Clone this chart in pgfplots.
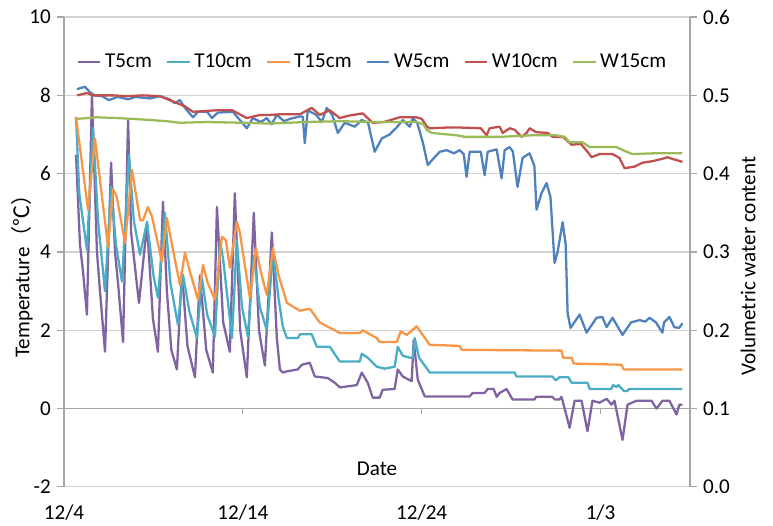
\documentclass[border=0pt]{standalone}
\usepackage{fontspec}
\setmainfont{Carlito}
\newfontfamily\cjk{Noto Sans CJK JP}
\usepackage{pgfplots}
\pgfplotsset{compat=1.18}

\definecolor{cT5}{RGB}{128,100,162}
\definecolor{cT10}{RGB}{75,172,198}
\definecolor{cT15}{RGB}{247,150,70}
\definecolor{cW5}{RGB}{79,129,189}
\definecolor{cW10}{RGB}{192,80,77}
\definecolor{cW15}{RGB}{155,187,89}
\definecolor{axgray}{RGB}{166,166,166}
\definecolor{gridgray}{RGB}{210,210,210}

\begin{document}
\begin{tikzpicture}
\pgfplotsset{
  every axis/.append style={
    width=355.7pt, height=267pt, scale only axis,
    xmin=0, xmax=35,
    font=\fontsize{12}{14}\selectfont,
    /pgf/number format/assume math mode=true,
    tick align=outside, major tick length=4pt,
    tick style={axgray, line width=0.7pt},
    axis line style={axgray, line width=0.7pt},
  },
  plt/.style={line width=1.3pt, no marks, line join=round},
}
% left axis: temperature
\begin{axis}[
  axis y line*=left, axis x line*=bottom,
  x axis line style={draw=none},
  every x tick/.style={draw=none},
  ymin=-2, ymax=10, ytick={-2,0,2,4,6,8,10},
  ymajorgrids, grid style={gridgray, line width=0.7pt},
  xtick={0,10,20,30}, xticklabels={12/4,12/14,12/24,1/3},
  xticklabel style={yshift=-2.5pt},
  ylabel={Temperature{\cjk （℃）}},
  ylabel style={at={(axis description cs:-0.067,0.46)}, anchor=center},
]
\draw[axgray, line width=0.7pt] (axis cs:0,0) -- (axis cs:35,0);
\draw[axgray, line width=0.7pt] (axis cs:10,0) -- (axis cs:10,-0.13);
\draw[axgray, line width=0.7pt] (axis cs:20,0) -- (axis cs:20,-0.13);
\draw[axgray, line width=0.7pt] (axis cs:30,0) -- (axis cs:30,-0.13);
\node at (axis cs:17.5,-1.55) {Date};

% T5cm
\addplot[plt, cT5] coordinates {
(0.67,6.48) (0.89,4.2) (1.06,3.5) (1.28,2.4) (1.56,8.0) (1.84,4.0) (2.01,3.0)
(2.29,1.45) (2.63,6.28) (2.85,4.0) (3.02,3.2) (3.30,1.7) (3.58,7.37) (3.75,4.5)
(4.19,2.7) (4.64,4.7) (4.97,2.3) (5.25,1.45) (5.53,5.28) (5.75,3.0) (6.0,1.5)
(6.31,1.0) (6.59,3.5) (6.9,1.6) (7.32,0.8) (7.6,3.4) (7.95,1.5) (8.32,0.92)
(8.55,5.15) (8.9,2.2) (9.27,1.45) (9.55,5.5) (9.85,2.0) (10.22,0.8) (10.61,5.0)
(10.9,2.0) (11.23,1.1) (11.62,4.5) (11.9,1.8) (12.07,1.0) (12.23,0.92) (12.46,0.95)
(13.07,1.0) (13.30,1.12) (13.74,1.17) (14.02,0.82) (14.75,0.78) (15.14,0.66)
(15.42,0.54) (16.37,0.6) (16.65,0.92) (16.98,0.66) (17.26,0.28) (17.65,0.28)
(17.82,0.48) (18.49,0.5) (18.66,1.0) (18.94,0.82) (19.44,0.7) (19.55,1.75)
(19.78,0.74) (20.17,0.31) (22.68,0.31) (22.85,0.4) (23.52,0.4) (23.69,0.5)
(24.02,0.5) (24.19,0.3) (24.36,0.4) (24.75,0.5) (25.08,0.23) (26.3,0.23)
(26.4,0.3) (27.3,0.3) (27.45,0.23) (27.7,0.23) (27.82,0.3) (28.27,-0.49)
(28.55,0.2) (28.94,0.2) (29.27,-0.58) (29.55,0.2) (29.94,0.15) (30.34,0.25)
(30.61,0.1) (30.78,0.2) (31.23,-0.8) (31.51,0.1) (32.01,0.2) (32.85,0.2)
(33.13,0.0) (33.46,0.2) (33.85,0.2) (34.25,-0.15) (34.41,0.1) (34.58,0.1)
};
% T10cm
\addplot[plt, cT10] coordinates {
(0.67,7.45) (0.85,5.5) (1.28,4.05) (1.62,7.17) (1.9,4.8) (2.29,3.0) (2.63,5.67)
(2.9,4.2) (3.24,3.24) (3.63,6.48) (3.9,4.8) (4.25,3.93) (4.64,4.77) (5.0,3.4)
(5.25,2.83) (5.64,5.0) (5.95,3.2) (6.37,2.14) (6.65,3.42) (7.0,2.5) (7.43,1.8)
(7.71,3.34) (8.0,2.4) (8.44,1.84) (8.72,4.3) (8.9,3.8) (9.39,1.8) (9.66,4.3)
(9.95,2.6) (10.28,1.84) (10.61,3.9) (10.95,2.6) (11.34,2.0) (11.68,4.0) (12.0,2.8)
(12.23,2.1) (12.46,1.8) (13.07,1.8) (13.2,1.9) (13.85,1.9) (14.13,1.58)
(14.86,1.58) (15.42,1.2) (16.54,1.2) (16.65,1.4) (16.98,1.3) (17.49,1.07)
(17.93,1.02) (18.49,1.07) (18.66,1.58) (18.94,1.35) (19.33,1.3) (19.5,1.3)
(19.61,1.8) (19.85,1.3) (20.45,0.92) (25.2,0.92) (25.3,0.82) (27.3,0.82)
(27.5,0.72) (27.7,0.8) (28.2,0.8) (28.38,0.66) (29.27,0.66) (29.4,0.5) (30.6,0.5)
(30.7,0.6) (30.9,0.55) (31.0,0.6) (31.2,0.5) (31.3,0.45) (31.5,0.45) (31.6,0.5)
(34.58,0.5)
};
% T15cm
\addplot[plt, cT15] coordinates {
(0.67,7.45) (1.34,5.08) (1.73,6.9) (2.46,4.13) (2.74,5.6) (2.95,5.4) (3.41,4.23)
(3.80,6.1) (4.25,4.82) (4.41,4.8) (4.69,5.15) (4.92,4.9) (5.47,3.75) (5.75,4.87)
(6.03,4.2) (6.48,3.16) (6.76,3.98) (7.04,3.5) (7.49,2.78) (7.77,3.67) (8.04,3.2)
(8.44,2.78) (8.83,4.39) (9.05,4.3) (9.27,3.6) (9.66,4.77) (9.83,4.5) (10.39,2.83)
(10.73,4.1) (11.0,3.5) (11.34,2.9) (11.68,4.1) (12.0,3.4) (12.46,2.7) (13.18,2.5)
(13.74,2.55) (14.30,2.2) (15.42,1.93) (16.54,1.93) (16.70,2.0) (17.49,1.8)
(17.65,1.7) (18.60,1.7) (18.83,1.97) (19.16,1.88) (19.72,2.1) (19.95,1.95)
(20.45,1.63) (22.12,1.6) (22.23,1.5) (27.82,1.48) (27.9,1.3) (28.38,1.3)
(28.5,1.15) (31.17,1.12) (31.3,1.0) (34.58,1.0)
};
\end{axis}

% right axis: volumetric water content
\begin{axis}[
  axis y line*=right, axis x line=none,
  ymin=0, ymax=0.6, ytick={0,0.1,0.2,0.3,0.4,0.5,0.6},
  yticklabel style={/pgf/number format/.cd, fixed, fixed zerofill, precision=1},
  ylabel={Volumetric water content},
  ylabel style={at={(axis description cs:1.093,0.47)}, anchor=center},
  legend style={at={(axis description cs:0.494,0.905)}, anchor=center,
    draw=none, fill=none, legend columns=6,
    /tikz/every even column/.append style={column sep=6pt}},
  legend image code/.code={\draw[#1] (0cm,0cm) -- (0.45cm,0cm);},
]
\addlegendimage{plt, cT5}\addlegendentry{T5cm}
\addlegendimage{plt, cT10}\addlegendentry{T10cm}
\addlegendimage{plt, cT15}\addlegendentry{T15cm}
% W5cm
\addplot[plt, cW5] coordinates {
(0.73,0.508) (1.17,0.511) (1.45,0.504) (1.7,0.500) (2.12,0.499) (2.5,0.494)
(3.0,0.498) (3.58,0.495) (4.0,0.498) (4.4,0.497) (4.8,0.496) (5.36,0.499)
(5.9,0.495) (6.20,0.490) (6.48,0.494) (6.76,0.484) (7.21,0.472) (7.49,0.479)
(8.0,0.479) (8.27,0.471) (8.6,0.478) (9.44,0.479) (9.83,0.4685) (10.22,0.458)
(10.56,0.471) (11.0,0.466) (11.34,0.471) (11.6,0.463) (11.90,0.475) (12.3,0.467)
(12.63,0.470) (13.18,0.473) (13.35,0.473) (13.46,0.439) (13.63,0.481) (14.1,0.475)
(14.41,0.466) (14.69,0.484) (15.0,0.475) (15.31,0.452) (15.7,0.465) (16.26,0.460)
(16.65,0.4685) (17.0,0.465) (17.15,0.45) (17.37,0.428) (17.77,0.445) (18.2,0.450)
(18.6,0.459) (18.94,0.4685) (19.33,0.460) (19.50,0.471) (19.75,0.465) (20.06,0.440)
(20.34,0.411) (20.6,0.418) (21.01,0.428) (21.4,0.430) (21.8,0.426) (22.12,0.430)
(22.35,0.425) (22.51,0.396) (22.68,0.428) (23.3,0.428) (23.52,0.398) (23.69,0.428)
(24.19,0.431) (24.47,0.394) (24.64,0.430) (24.92,0.434) (25.1,0.428) (25.36,0.383)
(25.64,0.420) (26.03,0.426) (26.3,0.41) (26.42,0.354) (26.7,0.375) (26.98,0.388)
(27.2,0.37) (27.43,0.286) (27.6,0.30) (27.88,0.338) (28.05,0.31) (28.16,0.222)
(28.32,0.203) (28.83,0.220) (29.22,0.197) (29.78,0.216) (30.1,0.217) (30.34,0.204)
(30.67,0.216) (31.23,0.194) (31.7,0.210) (32.18,0.213) (32.5,0.211) (32.74,0.216)
(33.1,0.21) (33.46,0.197) (33.55,0.21) (33.85,0.217) (34.13,0.204) (34.4,0.203)
(34.58,0.209)
};
\addlegendentry{W5cm}
% W10cm
\addplot[plt, cW10] coordinates {
(0.73,0.500) (1.28,0.503) (1.62,0.500) (2.74,0.500) (3.5,0.499) (4.4,0.500)
(5.36,0.499) (5.9,0.494) (6.76,0.486) (7.21,0.479) (8.55,0.481) (9.4,0.481)
(10.22,0.471) (10.95,0.475) (11.5,0.475) (12.2,0.476) (13.2,0.476) (13.85,0.484)
(14.3,0.475) (14.86,0.481) (15.42,0.471) (15.9,0.474) (16.70,0.477) (17.26,0.465)
(17.9,0.466) (18.77,0.472) (19.7,0.472) (20.0,0.470) (20.3,0.460) (20.45,0.458)
(21.5,0.459) (22.0,0.459) (23.3,0.458) (23.63,0.449) (23.8,0.458) (24.36,0.460)
(24.53,0.452) (24.92,0.458) (25.2,0.456) (25.59,0.447) (25.87,0.452) (26.03,0.458)
(26.4,0.453) (27.04,0.452) (27.32,0.447) (27.9,0.447) (28.38,0.437) (28.9,0.438)
(29.27,0.428) (29.50,0.421) (29.94,0.425) (30.67,0.425) (31.06,0.420) (31.34,0.407)
(31.9,0.409) (32.35,0.414) (32.91,0.416) (33.46,0.419) (33.74,0.421) (34.0,0.419)
(34.30,0.417) (34.58,0.415)
};
\addlegendentry{W10cm}
% W15cm
\addplot[plt, cW15] coordinates {
(0.73,0.470) (1.84,0.472) (3.0,0.471) (4.5,0.469) (5.75,0.467) (6.48,0.465)
(8.0,0.466) (10.0,0.465) (11.5,0.464) (13.58,0.466) (15.5,0.467) (17.26,0.466)
(19.72,0.466) (20.1,0.463) (20.28,0.456) (20.56,0.452) (21.96,0.449) (22.40,0.447)
(24.36,0.447) (26.2,0.449) (27.5,0.449) (28.0,0.447) (28.27,0.440) (28.99,0.440)
(29.39,0.434) (30.89,0.434) (31.45,0.428) (31.79,0.425) (33.0,0.426) (34.58,0.426)
};
\addlegendentry{W15cm}
\end{axis}
\pgfresetboundingbox
\path ([shift={(-36.4pt,-22.2pt)}]current axis.south west)
  rectangle ([shift={(47.2pt,9.7pt)}]current axis.north east);
\end{tikzpicture}
\end{document}
